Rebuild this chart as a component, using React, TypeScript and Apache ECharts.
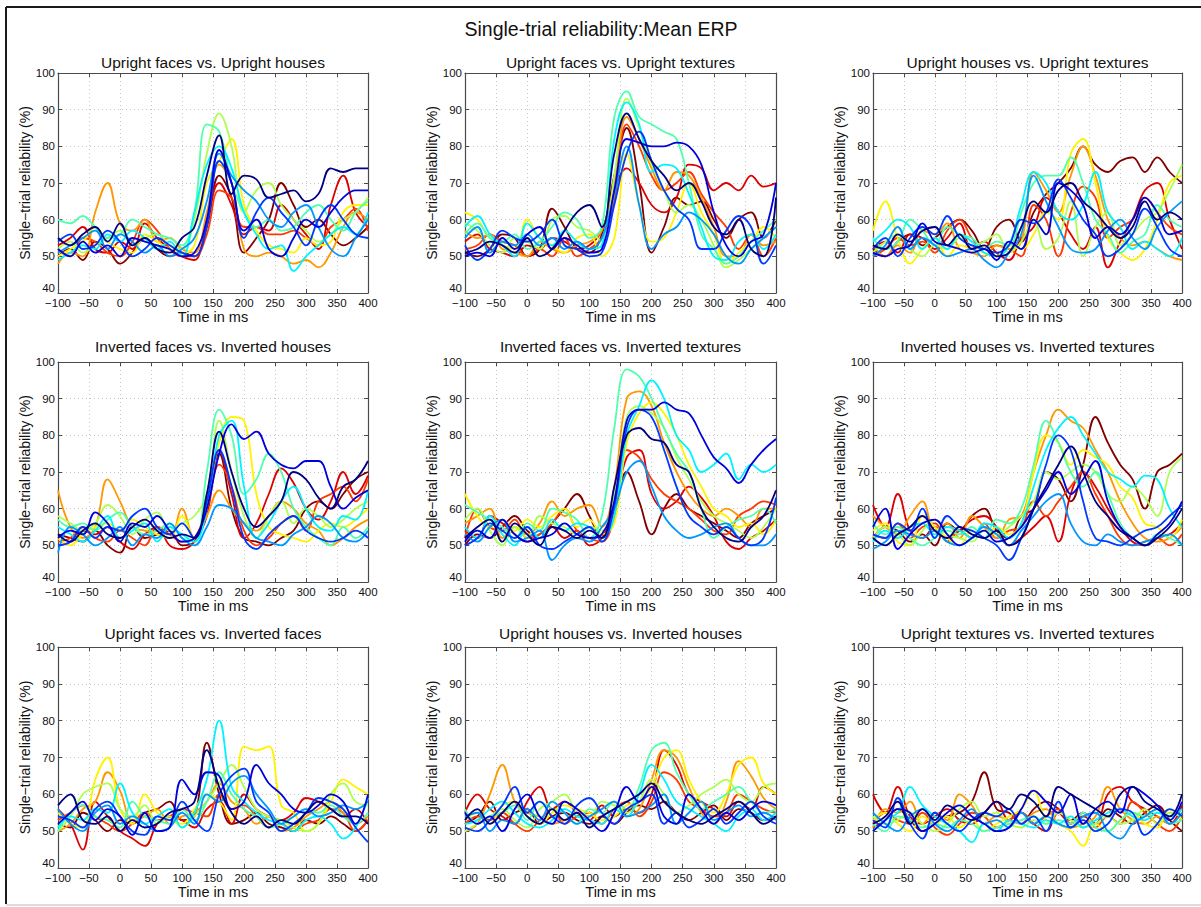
import React, { useEffect, useRef } from "react";
import * as echarts from "echarts";

// Sample times (ms) shared by every curve
const times = [-100, -80, -60, -40, -20, 0, 20, 40, 60, 80, 100, 120, 140, 160, 180, 200, 220, 240, 260, 280, 300, 320, 340, 360, 380, 400];

const xTicks = { min: -100, max: 400, step: 50 };
const yTicks = { min: 40, max: 100, step: 10 };

const mainTitle = "Single-trial reliability:Mean ERP";
const xAxisTitle = "Time in ms";
const yAxisTitle = "Single\u2212trial reliability (%)";

const panelTitles = [
  "Upright faces vs. Upright houses",
  "Upright faces vs. Upright textures",
  "Upright houses vs. Upright textures",
  "Inverted faces vs. Inverted houses",
  "Inverted faces vs. Inverted textures",
  "Inverted houses vs. Inverted textures",
  "Upright faces vs. Inverted faces",
  "Upright houses vs. Inverted houses",
  "Upright textures vs. Inverted textures",
];

// One row per subject, ordered from the first (navy) to the last (dark red) colour of the jet map
const uprightFacesVsHouses = [
  [55, 53, 56, 58, 54, 59, 53, 55, 52, 51, 55, 58, 72, 83, 67, 72, 71, 66, 67, 68, 65, 67, 74, 73, 74, 74],
  [52, 50, 54, 51, 53, 50, 55, 54, 53, 52, 50, 51, 60, 79, 70, 57, 60, 52, 50, 55, 60, 58, 62, 66, 68, 68],
  [54, 56, 52, 53, 57, 54, 50, 52, 55, 53, 51, 50, 58, 76, 70, 55, 62, 66, 62, 58, 53, 60, 64, 60, 56, 55],
  [51, 53, 55, 57, 52, 56, 54, 51, 53, 50, 52, 55, 65, 78, 72, 68, 65, 60, 58, 62, 64, 58, 52, 50, 55, 60],
  [49, 51, 53, 52, 56, 54, 57, 55, 52, 54, 50, 62, 75, 80, 74, 62, 56, 52, 53, 46, 50, 53, 56, 58, 56, 62],
  [60, 59, 61, 58, 55, 56, 60, 58, 56, 55, 53, 62, 86, 84, 70, 62, 58, 60, 57, 58, 62, 64, 60, 57, 62, 65],
  [52, 54, 51, 53, 55, 57, 53, 55, 56, 53, 52, 60, 78, 89, 80, 62, 68, 70, 64, 60, 57, 54, 56, 60, 62, 66],
  [50, 52, 54, 58, 54, 52, 51, 56, 54, 52, 51, 53, 70, 76, 82, 64, 57, 53, 52, 51, 55, 53, 54, 62, 64, 64],
  [48, 51, 50, 62, 70, 59, 57, 60, 54, 55, 52, 51, 62, 75, 70, 52, 50, 51, 50, 48, 49, 47, 51, 58, 62, 60],
  [52, 50, 55, 54, 51, 50, 54, 60, 57, 52, 50, 50, 56, 68, 66, 58, 58, 56, 56, 57, 55, 53, 58, 60, 63, 57],
  [53, 55, 58, 52, 51, 54, 52, 59, 55, 52, 50, 49, 60, 70, 64, 56, 58, 57, 64, 60, 56, 52, 64, 72, 62, 58],
  [50, 52, 49, 54, 52, 48, 51, 55, 52, 50, 51, 50, 58, 72, 66, 51, 55, 60, 70, 64, 58, 60, 56, 53, 55, 58],
];

const uprightFacesVsTextures = [
  [51, 52, 54, 53, 51, 55, 50, 52, 57, 62, 64, 58, 78, 89, 82, 76, 72, 68, 70, 65, 58, 56, 60, 52, 50, 66],
  [50, 51, 50, 55, 52, 56, 58, 52, 55, 53, 51, 52, 68, 82, 81, 80, 80, 81, 80, 75, 62, 53, 50, 54, 56, 70],
  [53, 49, 52, 57, 55, 54, 56, 60, 53, 52, 50, 51, 64, 78, 84, 76, 68, 63, 60, 52, 52, 57, 61, 58, 48, 53],
  [55, 58, 51, 54, 53, 56, 53, 55, 52, 54, 52, 55, 67, 80, 64, 52, 56, 58, 62, 60, 56, 50, 48, 52, 55, 58],
  [58, 61, 56, 53, 50, 59, 55, 53, 57, 54, 52, 53, 82, 92, 86, 73, 75, 74, 67, 58, 50, 49, 54, 56, 52, 56],
  [56, 59, 55, 54, 56, 52, 54, 58, 62, 60, 55, 58, 88, 95, 88, 86, 84, 82, 70, 56, 52, 48, 50, 54, 57, 60],
  [59, 57, 53, 51, 55, 54, 52, 60, 61, 58, 57, 54, 72, 93, 85, 75, 68, 62, 64, 60, 53, 47, 49, 52, 55, 58],
  [62, 60, 55, 53, 52, 60, 55, 53, 51, 55, 56, 50, 55, 78, 64, 54, 55, 62, 70, 62, 56, 48, 51, 54, 58, 55],
  [57, 55, 56, 52, 51, 50, 54, 52, 51, 53, 54, 57, 70, 88, 82, 74, 68, 73, 72, 66, 58, 50, 50, 56, 53, 54],
  [52, 53, 56, 54, 53, 50, 52, 50, 55, 50, 52, 55, 65, 86, 80, 72, 68, 70, 73, 67, 62, 58, 52, 56, 50, 55],
  [54, 56, 52, 51, 50, 53, 52, 55, 54, 52, 53, 57, 68, 74, 70, 64, 62, 66, 75, 74, 68, 70, 68, 72, 69, 70],
  [51, 50, 52, 56, 55, 50, 52, 63, 58, 52, 51, 56, 72, 85, 70, 51, 58, 66, 64, 65, 60, 55, 60, 62, 55, 60],
];

const uprightHousesVsTextures = [
  [53, 52, 56, 54, 57, 58, 53, 56, 52, 53, 50, 51, 58, 65, 62, 68, 70, 65, 62, 58, 55, 58, 65, 60, 62, 60],
  [51, 50, 52, 53, 59, 54, 53, 52, 51, 52, 49, 54, 52, 60, 56, 70, 68, 64, 55, 58, 56, 60, 66, 62, 56, 57],
  [52, 55, 50, 55, 58, 56, 61, 55, 53, 52, 51, 53, 60, 59, 62, 71, 66, 60, 56, 50, 52, 56, 63, 58, 52, 50],
  [50, 53, 58, 52, 55, 53, 50, 51, 52, 49, 47, 51, 56, 72, 65, 58, 52, 51, 52, 57, 60, 55, 52, 58, 62, 65],
  [54, 57, 60, 58, 52, 55, 52, 56, 54, 51, 50, 53, 64, 73, 70, 62, 60, 64, 73, 62, 58, 52, 54, 52, 50, 55],
  [55, 52, 54, 60, 57, 53, 58, 56, 55, 52, 54, 53, 62, 70, 72, 72, 77, 70, 60, 56, 51, 54, 56, 64, 60, 58],
  [51, 54, 56, 52, 50, 53, 52, 55, 53, 54, 56, 51, 54, 60, 52, 55, 65, 50, 58, 62, 53, 56, 60, 62, 68, 75],
  [57, 65, 55, 48, 52, 55, 50, 53, 52, 51, 50, 53, 52, 56, 62, 60, 78, 82, 70, 55, 51, 49, 52, 60, 70, 72],
  [53, 50, 53, 51, 57, 56, 59, 52, 51, 50, 53, 52, 54, 73, 68, 62, 72, 80, 72, 60, 55, 53, 54, 52, 50, 49],
  [50, 52, 55, 53, 54, 51, 57, 60, 55, 52, 53, 52, 50, 64, 60, 50, 62, 69, 66, 55, 58, 60, 66, 62, 58, 56],
  [52, 54, 51, 56, 55, 52, 55, 59, 52, 54, 51, 49, 55, 58, 66, 62, 56, 52, 58, 47, 54, 60, 68, 70, 60, 52],
  [52, 50, 54, 56, 53, 55, 58, 60, 57, 52, 58, 60, 54, 62, 67, 70, 74, 80, 75, 73, 76, 77, 73, 77, 73, 70],
];

const invertedFacesVsHouses = [
  [53, 51, 54, 56, 53, 52, 55, 57, 54, 52, 53, 52, 64, 81, 70, 60, 55, 58, 62, 70, 68, 63, 60, 66, 68, 73],
  [52, 54, 53, 59, 56, 51, 56, 55, 58, 54, 51, 52, 60, 75, 83, 79, 81, 75, 72, 71, 73, 73, 66, 60, 63, 65],
  [50, 51, 55, 52, 55, 54, 58, 60, 55, 53, 56, 52, 62, 76, 66, 52, 49, 53, 56, 58, 54, 52, 51, 52, 54, 52],
  [48, 55, 53, 50, 52, 55, 50, 53, 52, 56, 52, 50, 55, 61, 60, 56, 52, 51, 50, 53, 55, 58, 56, 52, 51, 54],
  [55, 53, 51, 54, 58, 52, 54, 56, 51, 55, 53, 51, 60, 80, 84, 66, 52, 56, 62, 66, 60, 55, 54, 58, 57, 65],
  [57, 55, 56, 54, 57, 59, 55, 53, 54, 56, 52, 51, 70, 87, 80, 64, 68, 75, 70, 60, 55, 52, 50, 55, 52, 55],
  [58, 56, 54, 56, 61, 58, 53, 57, 59, 54, 56, 58, 64, 84, 70, 58, 52, 58, 62, 56, 60, 58, 55, 57, 60, 62],
  [52, 50, 53, 55, 56, 54, 57, 55, 53, 52, 58, 52, 62, 78, 85, 84, 64, 55, 53, 52, 51, 54, 56, 55, 57, 60],
  [65, 55, 52, 55, 68, 62, 55, 54, 53, 52, 60, 52, 58, 65, 60, 56, 54, 58, 62, 60, 56, 54, 50, 52, 55, 57],
  [51, 52, 55, 52, 51, 54, 52, 50, 55, 53, 51, 52, 60, 72, 66, 54, 50, 52, 56, 58, 54, 62, 64, 66, 62, 68],
  [50, 51, 54, 53, 55, 51, 49, 53, 55, 50, 49, 51, 58, 76, 64, 52, 56, 64, 71, 67, 60, 57, 62, 70, 64, 69],
  [53, 52, 51, 54, 50, 48, 55, 52, 53, 54, 50, 51, 62, 75, 60, 52, 51, 50, 52, 54, 60, 62, 60, 64, 68, 70],
];

const invertedFacesVsTextures = [
  [52, 55, 57, 51, 56, 53, 50, 55, 54, 52, 54, 52, 66, 80, 82, 79, 78, 72, 70, 60, 55, 52, 51, 55, 58, 65],
  [51, 54, 52, 57, 53, 51, 52, 53, 56, 53, 52, 53, 62, 84, 87, 87, 89, 87, 86, 80, 74, 71, 67, 72, 76, 79],
  [50, 52, 56, 54, 52, 55, 50, 49, 51, 53, 55, 51, 61, 82, 87, 85, 76, 66, 58, 55, 53, 55, 52, 50, 52, 63],
  [53, 51, 55, 57, 51, 52, 54, 46, 50, 52, 51, 55, 60, 70, 73, 66, 58, 54, 52, 53, 55, 56, 52, 50, 50, 53],
  [55, 52, 58, 53, 50, 55, 52, 57, 54, 56, 55, 52, 58, 80, 88, 95, 90, 80, 76, 70, 72, 75, 68, 72, 70, 72],
  [61, 59, 57, 55, 52, 56, 54, 60, 59, 57, 52, 58, 82, 98, 96, 90, 82, 75, 70, 60, 52, 55, 57, 58, 60, 56],
  [57, 60, 54, 50, 55, 52, 58, 56, 55, 53, 55, 54, 64, 85, 88, 86, 82, 74, 68, 62, 58, 56, 54, 52, 55, 60],
  [64, 58, 55, 57, 54, 57, 55, 58, 60, 55, 57, 53, 56, 78, 86, 89, 86, 80, 72, 66, 60, 58, 55, 56, 53, 57],
  [56, 58, 60, 52, 55, 53, 56, 62, 58, 60, 61, 55, 66, 90, 92, 88, 78, 70, 64, 60, 58, 60, 58, 55, 60, 60],
  [52, 60, 55, 54, 57, 52, 53, 56, 60, 54, 52, 51, 58, 76, 74, 68, 64, 62, 60, 57, 54, 53, 58, 60, 62, 61],
  [54, 52, 58, 56, 53, 51, 53, 55, 52, 54, 50, 52, 60, 74, 76, 64, 60, 62, 66, 63, 58, 51, 49, 52, 54, 57],
  [50, 53, 52, 55, 58, 54, 52, 56, 60, 64, 58, 52, 60, 70, 62, 53, 60, 64, 60, 58, 56, 54, 52, 56, 58, 60],
];

const invertedHousesVsTextures = [
  [52, 50, 53, 55, 58, 54, 52, 55, 53, 52, 54, 50, 52, 60, 66, 72, 77, 70, 62, 58, 54, 52, 50, 52, 55, 60],
  [55, 60, 49, 53, 56, 57, 53, 50, 52, 54, 51, 52, 55, 60, 65, 70, 64, 68, 73, 62, 55, 52, 50, 53, 56, 62],
  [53, 52, 56, 54, 60, 52, 58, 55, 54, 52, 50, 46, 52, 60, 72, 80, 76, 62, 52, 51, 50, 52, 54, 55, 58, 61],
  [49, 51, 54, 53, 52, 54, 51, 50, 52, 55, 53, 50, 54, 58, 62, 64, 56, 51, 50, 53, 51, 50, 51, 52, 53, 50],
  [51, 54, 52, 55, 56, 53, 55, 54, 52, 56, 55, 52, 56, 66, 76, 82, 85, 80, 75, 70, 68, 66, 69, 68, 60, 55],
  [56, 53, 55, 52, 50, 52, 54, 53, 55, 52, 57, 56, 60, 72, 84, 78, 70, 66, 70, 64, 56, 52, 50, 53, 52, 50],
  [52, 55, 53, 50, 54, 57, 53, 52, 51, 54, 53, 55, 58, 62, 70, 68, 70, 72, 70, 64, 62, 66, 63, 58, 70, 74],
  [54, 56, 51, 50, 58, 55, 52, 50, 54, 52, 55, 53, 56, 70, 80, 78, 72, 76, 74, 72, 66, 63, 56, 55, 52, 57],
  [58, 55, 53, 58, 62, 54, 56, 52, 58, 55, 52, 57, 58, 70, 80, 87, 84, 82, 76, 70, 62, 56, 52, 51, 52, 55],
  [53, 52, 56, 52, 55, 56, 51, 54, 52, 56, 52, 54, 55, 62, 58, 62, 66, 70, 64, 58, 52, 50, 51, 52, 50, 53],
  [61, 55, 64, 54, 52, 55, 52, 54, 57, 58, 55, 50, 52, 55, 58, 51, 64, 70, 66, 60, 55, 51, 50, 52, 53, 56],
  [52, 55, 54, 51, 53, 50, 56, 54, 58, 60, 54, 52, 58, 60, 70, 68, 62, 72, 85, 78, 72, 68, 60, 70, 72, 75],
];

const uprightVsInvertedFaces = [
  [57, 60, 53, 52, 54, 50, 53, 51, 52, 55, 56, 58, 72, 62, 55, 52, 54, 51, 53, 52, 55, 58, 56, 54, 54, 52],
  [52, 55, 58, 53, 56, 54, 49, 55, 50, 51, 64, 60, 66, 65, 56, 58, 68, 63, 60, 56, 55, 57, 60, 58, 52, 60],
  [54, 53, 51, 56, 58, 54, 50, 49, 54, 53, 58, 53, 50, 60, 65, 67, 58, 55, 50, 52, 55, 59, 58, 56, 51, 47],
  [56, 52, 50, 55, 57, 52, 54, 52, 50, 51, 55, 52, 60, 58, 63, 65, 60, 56, 52, 54, 56, 54, 55, 57, 56, 58],
  [51, 54, 53, 56, 55, 63, 55, 52, 54, 56, 51, 55, 64, 80, 62, 58, 55, 53, 52, 50, 53, 54, 52, 48, 51, 59],
  [50, 55, 57, 54, 53, 51, 58, 54, 53, 52, 56, 53, 58, 66, 60, 56, 54, 51, 52, 54, 56, 55, 57, 54, 52, 55],
  [50, 54, 60, 62, 63, 56, 54, 57, 52, 54, 51, 54, 58, 63, 68, 62, 56, 54, 53, 51, 50, 52, 60, 63, 58, 57],
  [55, 52, 51, 64, 70, 56, 52, 60, 55, 53, 52, 56, 60, 58, 53, 73, 72, 73, 57, 55, 50, 52, 58, 64, 62, 60],
  [50, 52, 56, 58, 66, 61, 53, 54, 56, 52, 54, 55, 58, 63, 58, 56, 52, 54, 50, 51, 54, 56, 58, 55, 52, 54],
  [53, 55, 57, 54, 52, 50, 52, 55, 53, 54, 56, 55, 54, 60, 56, 57, 54, 51, 52, 50, 52, 53, 56, 55, 50, 53],
  [56, 52, 45, 58, 54, 50, 48, 46, 52, 54, 53, 51, 56, 58, 52, 60, 56, 54, 53, 55, 59, 58, 56, 54, 56, 52],
  [52, 51, 55, 53, 50, 53, 52, 55, 56, 58, 53, 54, 74, 60, 52, 53, 55, 52, 51, 50, 53, 52, 54, 52, 50, 53],
];

const uprightVsInvertedHouses = [
  [53, 56, 52, 55, 58, 54, 52, 56, 53, 55, 51, 54, 56, 58, 60, 63, 58, 55, 53, 52, 54, 56, 58, 55, 52, 54],
  [55, 52, 54, 50, 56, 60, 54, 52, 58, 56, 53, 50, 55, 62, 58, 62, 54, 52, 60, 56, 52, 55, 53, 56, 58, 57],
  [51, 50, 53, 57, 62, 55, 58, 54, 52, 57, 59, 55, 52, 56, 58, 60, 52, 55, 51, 53, 56, 52, 55, 58, 54, 52],
  [54, 55, 50, 53, 52, 56, 53, 58, 55, 52, 54, 56, 58, 54, 55, 57, 60, 52, 55, 58, 53, 55, 57, 54, 55, 53],
  [52, 53, 56, 58, 55, 52, 51, 53, 56, 54, 53, 52, 56, 54, 60, 68, 64, 58, 56, 54, 52, 50, 54, 56, 53, 55],
  [56, 52, 54, 55, 57, 53, 58, 56, 55, 52, 56, 55, 58, 56, 62, 72, 74, 66, 60, 56, 58, 60, 62, 58, 55, 56],
  [50, 52, 54, 56, 53, 51, 56, 58, 60, 55, 54, 58, 57, 55, 58, 64, 60, 55, 57, 60, 62, 64, 60, 58, 62, 63],
  [53, 55, 52, 57, 58, 54, 52, 55, 57, 56, 55, 53, 54, 57, 58, 62, 70, 72, 64, 58, 55, 60, 68, 70, 63, 60],
  [50, 52, 60, 68, 58, 55, 54, 52, 53, 55, 54, 56, 58, 54, 56, 64, 72, 70, 62, 55, 52, 58, 69, 65, 59, 56],
  [52, 54, 53, 55, 52, 50, 53, 56, 52, 54, 55, 52, 56, 58, 54, 58, 66, 64, 58, 56, 54, 55, 60, 58, 56, 55],
  [55, 60, 56, 54, 52, 58, 62, 56, 58, 55, 53, 57, 54, 56, 55, 60, 72, 68, 60, 58, 56, 54, 58, 56, 62, 60],
  [52, 54, 58, 53, 55, 56, 52, 54, 55, 53, 52, 54, 52, 55, 57, 56, 58, 55, 53, 55, 57, 53, 56, 55, 53, 54],
];

const uprightVsInvertedTextures = [
  [52, 54, 58, 52, 56, 53, 57, 55, 53, 55, 58, 56, 60, 58, 54, 62, 60, 58, 56, 54, 60, 62, 58, 56, 54, 60],
  [50, 53, 56, 55, 50, 52, 55, 57, 54, 52, 50, 51, 56, 61, 58, 55, 60, 52, 56, 58, 55, 62, 60, 57, 53, 58],
  [53, 51, 59, 52, 48, 55, 52, 50, 53, 55, 54, 56, 52, 54, 50, 58, 51, 53, 50, 52, 56, 55, 49, 52, 56, 54],
  [55, 52, 50, 54, 56, 52, 50, 53, 56, 52, 53, 51, 55, 52, 54, 52, 51, 54, 55, 50, 48, 52, 54, 56, 52, 55],
  [50, 53, 55, 62, 57, 54, 52, 50, 47, 52, 50, 53, 52, 51, 53, 52, 54, 51, 53, 55, 56, 54, 53, 55, 54, 56],
  [52, 50, 54, 53, 51, 52, 51, 53, 52, 50, 51, 52, 53, 54, 52, 53, 52, 55, 51, 50, 53, 55, 54, 56, 52, 53],
  [54, 52, 53, 55, 52, 50, 52, 56, 58, 54, 55, 52, 51, 53, 52, 55, 53, 51, 52, 54, 52, 53, 56, 52, 55, 54],
  [53, 55, 52, 50, 54, 52, 54, 51, 53, 50, 52, 54, 56, 61, 53, 52, 50, 46, 52, 50, 53, 55, 52, 51, 56, 53],
  [51, 56, 55, 58, 52, 55, 53, 60, 57, 52, 54, 53, 52, 55, 56, 52, 51, 52, 54, 62, 56, 53, 52, 54, 52, 55],
  [52, 55, 53, 52, 55, 51, 49, 52, 55, 54, 51, 53, 55, 52, 54, 56, 52, 55, 51, 54, 52, 58, 55, 52, 50, 54],
  [60, 55, 62, 54, 52, 54, 56, 53, 52, 55, 58, 53, 55, 52, 50, 55, 52, 54, 52, 60, 62, 58, 56, 54, 52, 57],
  [51, 53, 56, 53, 50, 52, 54, 55, 58, 66, 56, 55, 52, 56, 58, 56, 53, 55, 52, 56, 54, 52, 55, 57, 53, 50],
];

const panels = [
  uprightFacesVsHouses,
  uprightFacesVsTextures,
  uprightHousesVsTextures,
  invertedFacesVsHouses,
  invertedFacesVsTextures,
  invertedHousesVsTextures,
  uprightVsInvertedFaces,
  uprightVsInvertedHouses,
  uprightVsInvertedTextures,
];

// Plot boxes of the 3x3 layout, in pixels
const columns = [
  { left: 58, width: 310 },
  { left: 465, width: 311 },
  { left: 873, width: 309 },
];
const rows = [
  { top: 73, height: 220, titleY: 62 },
  { top: 362, height: 220, titleY: 346 },
  { top: 647, height: 221, titleY: 633 },
];

const FONT = "'Liberation Sans', Arial, Helvetica, sans-serif";
const BOX = "#4a4a4a";
const TICK_SIZE = 11.5;

// MATLAB-style jet colour map
function jet(t: number): string {
  const c = (v: number) => Math.round(255 * Math.max(0, Math.min(1, v)));
  return `rgb(${c(1.5 - Math.abs(4 * t - 3))},${c(1.5 - Math.abs(4 * t - 2))},${c(1.5 - Math.abs(4 * t - 1))})`;
}

const tickFmt = (v: number) => (v < 0 ? "\u2212" + Math.abs(v) : String(v));
// the lowest y label is lifted a little so it clears the first x label
const yTickFmt = (v: number) => (v === yTicks.min ? `{low|${v}}` : String(v));

function buildOption() {
  const grid: any[] = [];
  const xAxis: any[] = [];
  const yAxis: any[] = [];
  const series: any[] = [];
  const graphic: any[] = [];

  const boxLine = { show: true, onZero: false, lineStyle: { color: BOX, width: 1.2 } };
  const inTick = { show: true, inside: true, length: 4, lineStyle: { color: BOX, width: 1 } };
  const dotted = { show: true, lineStyle: { color: "#c4c4c4", type: [1, 3], width: 1 } };

  panels.forEach((lines, i) => {
    const col = columns[i % 3];
    const row = rows[Math.floor(i / 3)];
    grid.push({ left: col.left, top: row.top, width: col.width, height: row.height, show: false });

    const xBase = { gridIndex: i, type: "value", min: xTicks.min, max: xTicks.max, interval: xTicks.step };
    xAxis.push({
      ...xBase,
      position: "bottom",
      axisLine: boxLine,
      axisTick: inTick,
      splitLine: dotted,
      axisLabel: { color: "#111", fontSize: TICK_SIZE, fontFamily: FONT, margin: 4, formatter: tickFmt },
      name: xAxisTitle,
      nameLocation: "middle",
      nameGap: 16,
      nameTextStyle: { color: "#111", fontSize: 14.5, fontFamily: FONT },
    });
    xAxis.push({
      ...xBase,
      position: "top",
      axisLine: boxLine,
      axisTick: inTick,
      splitLine: { show: false },
      axisLabel: { show: false },
    });

    const yBase = { gridIndex: i, type: "value", min: yTicks.min, max: yTicks.max, interval: yTicks.step };
    yAxis.push({
      ...yBase,
      position: "left",
      axisLine: boxLine,
      axisTick: inTick,
      splitLine: dotted,
      axisLabel: {
        color: "#111",
        fontSize: TICK_SIZE,
        fontFamily: FONT,
        margin: 3,
        formatter: yTickFmt,
        rich: { low: { color: "#111", fontSize: TICK_SIZE, fontFamily: FONT, padding: [0, 0, 10, 0] } },
      },
      name: yAxisTitle,
      nameLocation: "middle",
      nameGap: 25,
      nameTextStyle: { color: "#111", fontSize: 14, fontFamily: FONT },
    });
    yAxis.push({
      ...yBase,
      position: "right",
      axisLine: boxLine,
      axisTick: inTick,
      splitLine: { show: false },
      axisLabel: { show: false },
    });

    // red end of the map first so the blue curves sit on top
    const n = lines.length;
    for (let k = n - 1; k >= 0; k--) {
      series.push({
        type: "line",
        xAxisIndex: 2 * i,
        yAxisIndex: 2 * i,
        data: times.map((t, j) => [t, lines[k][j]]),
        smooth: 0.4,
        showSymbol: false,
        silent: true,
        lineStyle: { color: jet(k / (n - 1)), width: 1.8 },
      });
    }

    graphic.push({
      type: "text",
      x: col.left + col.width / 2,
      y: row.titleY,
      style: {
        text: panelTitles[i],
        fill: "#111",
        fontSize: 15.5,
        fontFamily: FONT,
        textAlign: "center",
        textVerticalAlign: "middle",
      },
    });
  });

  graphic.push({
    type: "text",
    x: 601,
    y: 29,
    style: {
      text: mainTitle,
      fill: "#111",
      fontSize: 19.5,
      fontFamily: FONT,
      textAlign: "center",
      textVerticalAlign: "middle",
    },
  });

  // figure frame
  graphic.push({ type: "line", shape: { x1: 6, y1: 7, x2: 1201, y2: 7 }, style: { stroke: "#1a1a1a", lineWidth: 2 } });
  graphic.push({ type: "line", shape: { x1: 6, y1: 7, x2: 6, y2: 904 }, style: { stroke: "#1a1a1a", lineWidth: 2 } });
  graphic.push({ type: "line", shape: { x1: 6, y1: 905, x2: 1201, y2: 905 }, style: { stroke: "#d0d0d0", lineWidth: 1.5 } });

  return {
    animation: false,
    backgroundColor: "#ffffff",
    textStyle: { fontFamily: FONT },
    grid,
    xAxis,
    yAxis,
    series,
    graphic,
  };
}

export default function App() {
  const ref = useRef<HTMLDivElement>(null);

  useEffect(() => {
    if (!ref.current) return;
    const chart = echarts.init(ref.current, undefined, { renderer: "svg" });
    chart.setOption(buildOption() as any);
    return () => chart.dispose();
  }, []);

  return (
    <div
      ref={ref}
      style={{ position: "absolute", left: 0, top: 0, width: 1201, height: 907, background: "#fff" }}
    />
  );
}
